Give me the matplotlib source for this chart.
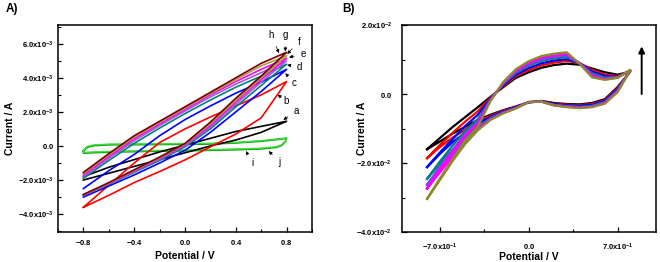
import matplotlib
matplotlib.use('Agg')
import matplotlib.pyplot as plt
from matplotlib.ticker import MultipleLocator

plt.rcParams['font.family'] = ['Liberation Sans', 'DejaVu Sans']
plt.rcParams['mathtext.fontset'] = 'custom'
plt.rcParams['mathtext.rm'] = 'Liberation Sans'
plt.rcParams['mathtext.bf'] = 'Liberation Sans:bold'

# ---------------- panel A data (current in 1e-3 A) ----------------
E_a = [-0.8, -0.6, -0.4, -0.2, 0.0, 0.2, 0.4, 0.6, 0.8]

names_a = ['a', 'b', 'c', 'd', 'e', 'f', 'g', 'h']
colors_a = ['#000000', '#ff0000', '#0000ff', '#008080', '#9a5fd0', '#ff00ff', '#a3a040', '#7a0000']

# anodic (upper) branches, -0.8 -> 0.8
upper_a = [
    [-1.80, -1.25, -0.80, -0.35, 0.05, 0.45, 0.85, 1.15, 1.45],
    [-3.60, -2.30, -1.00, 0.20, 1.00, 1.70, 2.35, 3.00, 3.78],
    [-2.50, -1.45, -0.50, 0.60, 1.55, 2.35, 3.10, 3.75, 4.50],
    [-1.90, -0.85, 0.15, 1.05, 1.90, 2.70, 3.45, 4.10, 4.80],
    [-1.80, -0.72, 0.30, 1.20, 2.05, 2.88, 3.63, 4.30, 5.00],
    [-1.70, -0.62, 0.42, 1.30, 2.15, 3.00, 3.78, 4.50, 5.15],
    [-1.62, -0.52, 0.52, 1.38, 2.23, 3.08, 3.90, 4.70, 5.30],
    [-1.55, -0.45, 0.60, 1.45, 2.30, 3.15, 4.00, 4.85, 5.50],
]
# cathodic (lower) branches, same potentials
lower_a = [
    [-2.00, -1.60, -1.20, -0.80, -0.40, 0.00, 0.35, 0.80, 1.45],
    [-3.60, -2.90, -2.15, -1.50, -0.82, -0.05, 0.70, 1.65, 3.78],
    [-3.00, -2.35, -1.70, -1.00, -0.25, 0.80, 2.00, 3.20, 4.50],
    [-2.90, -2.25, -1.55, -0.85, -0.05, 1.00, 2.30, 3.55, 4.80],
    [-2.88, -2.22, -1.50, -0.78, 0.02, 1.10, 2.45, 3.75, 5.00],
    [-2.87, -2.20, -1.47, -0.73, 0.08, 1.20, 2.58, 3.90, 5.15],
    [-2.86, -2.18, -1.43, -0.69, 0.12, 1.30, 2.68, 4.00, 5.30],
    [-2.85, -2.15, -1.40, -0.65, 0.15, 1.40, 2.80, 4.10, 5.50],
]

# the two flat green loops (i, j)
E_green = [-0.8, -0.77, -0.72, -0.6, -0.4, -0.2, 0.0, 0.2, 0.4, 0.6, 0.7, 0.8,
           0.79, 0.76, 0.72, 0.6, 0.4, 0.2, 0.0, -0.2, -0.4, -0.6, -0.75, -0.8, -0.8]
I_green_i = [-0.30, -0.08, 0.02, 0.07, 0.08, 0.09, 0.10, 0.12, 0.18, 0.28, 0.36, 0.45,
             0.25, 0.03, -0.08, -0.17, -0.22, -0.25, -0.28, -0.30, -0.33, -0.36, -0.40, -0.42, -0.30]
I_green_j = [-0.25, -0.03, 0.06, 0.11, 0.12, 0.13, 0.14, 0.16, 0.21, 0.31, 0.39, 0.47,
             0.28, 0.06, -0.04, -0.13, -0.18, -0.21, -0.24, -0.26, -0.29, -0.32, -0.36, -0.38, -0.25]

# label text position, arrow tip
label_pos = {
    'h': ((0.68, 6.53), (0.74, 5.45)),
    'g': ((0.79, 6.53), (0.79, 5.55)),
    'f': ((0.90, 6.13), (0.805, 5.40)),
    'e': ((0.935, 5.41), (0.82, 5.20)),
    'd': ((0.90, 4.63), (0.805, 4.76)),
    'c': ((0.86, 3.69), (0.79, 4.27)),
    'b': ((0.80, 2.64), (0.73, 3.00)),
    'a': ((0.88, 2.08), (0.775, 1.53)),
    'i': ((0.53, -1.02), (0.48, -0.30)),
    'j': ((0.74, -0.92), (0.66, -0.30)),
}

# ---------------- panel B data (current in 1e-2 A) ----------------
E_b = [-0.8, -0.7, -0.6, -0.5, -0.4, -0.3, -0.2, -0.1, 0.0, 0.1, 0.2, 0.3, 0.4, 0.5, 0.6, 0.7, 0.8]
colors_b = ['#000000', '#ff0000', '#0000ff', '#008080', '#8a3cf0', '#ff00ff', '#8c8a2a']

fwd_b = [
    [-1.60, -1.28, -0.96, -0.67, -0.38, -0.08, 0.20, 0.47, 0.63, 0.76, 0.84, 0.88, 0.85, 0.74, 0.63, 0.56, 0.65],
    [-1.86, -1.48, -1.13, -0.80, -0.50, -0.10, 0.23, 0.52, 0.69, 0.83, 0.91, 0.96, 0.90, 0.70, 0.56, 0.52, 0.66],
    [-2.12, -1.70, -1.31, -0.93, -0.60, -0.13, 0.26, 0.56, 0.75, 0.89, 0.97, 1.01, 0.90, 0.65, 0.52, 0.50, 0.67],
    [-2.46, -1.96, -1.50, -1.07, -0.73, -0.15, 0.29, 0.61, 0.82, 0.96, 1.03, 1.07, 0.90, 0.60, 0.48, 0.49, 0.68],
    [-2.63, -2.10, -1.62, -1.15, -0.80, -0.17, 0.31, 0.65, 0.86, 1.01, 1.08, 1.12, 0.90, 0.56, 0.45, 0.48, 0.69],
    [-2.74, -2.20, -1.70, -1.22, -0.86, -0.18, 0.33, 0.68, 0.90, 1.05, 1.12, 1.16, 0.89, 0.52, 0.43, 0.47, 0.69],
    [-3.04, -2.45, -1.90, -1.35, -0.95, -0.20, 0.35, 0.72, 0.95, 1.10, 1.17, 1.21, 0.88, 0.48, 0.41, 0.47, 0.70],
]
# reverse scan, listed from 0.8 back to -0.8
rev_b = [
    [0.65, 0.20, -0.15, -0.26, -0.30, -0.29, -0.26, -0.20, -0.24, -0.36, -0.47, -0.60, -0.75, -0.95, -1.15, -1.38, -1.60],
    [0.66, 0.17, -0.18, -0.29, -0.32, -0.31, -0.28, -0.21, -0.24, -0.37, -0.49, -0.63, -0.80, -1.03, -1.27, -1.54, -1.86],
    [0.67, 0.14, -0.20, -0.31, -0.34, -0.33, -0.29, -0.21, -0.24, -0.38, -0.51, -0.66, -0.86, -1.12, -1.40, -1.74, -2.12],
    [0.68, 0.11, -0.23, -0.34, -0.37, -0.35, -0.31, -0.22, -0.24, -0.40, -0.53, -0.70, -0.94, -1.26, -1.62, -2.02, -2.46],
    [0.69, 0.09, -0.25, -0.36, -0.39, -0.36, -0.32, -0.22, -0.23, -0.41, -0.54, -0.72, -0.99, -1.34, -1.75, -2.18, -2.63],
    [0.69, 0.07, -0.26, -0.37, -0.40, -0.37, -0.33, -0.22, -0.23, -0.41, -0.55, -0.73, -1.01, -1.39, -1.84, -2.28, -2.74],
    [0.70, 0.05, -0.28, -0.38, -0.41, -0.38, -0.33, -0.22, -0.23, -0.42, -0.56, -0.75, -1.05, -1.45, -1.95, -2.50, -3.04],
]

fig = plt.figure(figsize=(6.6, 2.62), dpi=100)
axA = fig.add_axes([0.0879, 0.1145, 0.3848, 0.790])
axB = fig.add_axes([0.6086, 0.1145, 0.3848, 0.790])

# ---- panel A ----
axA.plot(E_green, I_green_i, color='#10a010', lw=1.3)
axA.plot(E_green, I_green_j, color='#3ede3e', lw=1.0)
for up, lo, c in zip(upper_a, lower_a, colors_a):
    axA.plot(E_a + E_a[::-1], up + lo[::-1], color=c, lw=1.2)

for name, (txt, tip) in label_pos.items():
    axA.annotate(name, xy=tip, xytext=txt, fontsize=7, ha='center', va='center',
                 arrowprops=dict(arrowstyle='-|>', lw=0.5, color='k', mutation_scale=5,
                                 shrinkA=3, shrinkB=0))

axA.set_xlim(-1.0, 1.0)
axA.set_ylim(-5.05, 7.1)
axA.set_xticks([-0.8, -0.4, 0.0, 0.4, 0.8])
axA.set_xticklabels([r'$\mathbf{-0.8}$', r'$\mathbf{-0.4}$', r'$\mathbf{0.0}$',
                     r'$\mathbf{0.4}$', r'$\mathbf{0.8}$'])
axA.set_yticks([-4, -2, 0, 2, 4, 6])
axA.set_yticklabels([r'$\mathbf{-4.0x10^{-3}}$', r'$\mathbf{-2.0x10^{-3}}$', r'$\mathbf{0.0}$',
                     r'$\mathbf{2.0x10^{-3}}$', r'$\mathbf{4.0x10^{-3}}$', r'$\mathbf{6.0x10^{-3}}$'])
axA.xaxis.set_minor_locator(MultipleLocator(0.2))
axA.yaxis.set_minor_locator(MultipleLocator(1))
axA.set_xlabel('Potential / V', fontsize=7.5, fontweight='bold')
axA.set_ylabel('Current / A', fontsize=7.5, fontweight='bold')
axA.xaxis.set_label_coords(0.5, -0.116)
axA.yaxis.set_label_coords(-0.189, 0.5)
fig.text(0.008, 0.965, 'A)', fontsize=8.5, fontweight='bold', va='center')

# ---- panel B ----
for f, r, c in zip(fwd_b, rev_b, colors_b):
    axB.plot(E_b + E_b[::-1], f + r, color=c, lw=1.6)

axB.annotate('', xy=(0.89, 1.38), xytext=(0.89, 0.0),
             arrowprops=dict(arrowstyle='-|>', lw=1.4, color='k', mutation_scale=9,
                             shrinkA=0, shrinkB=0))

axB.set_xlim(-1.0, 1.0)
axB.set_ylim(-4.0, 2.0)
axB.set_xticks([-0.7, 0.0, 0.7])
axB.set_xticklabels([r'$\mathbf{-7.0x10^{-1}}$', r'$\mathbf{0.0}$', r'$\mathbf{7.0x10^{-1}}$'])
axB.set_yticks([-4, -2, 0, 2])
axB.set_yticklabels([r'$\mathbf{-4.0x10^{-2}}$', r'$\mathbf{-2.0x10^{-2}}$', r'$\mathbf{0.0}$',
                     r'$\mathbf{2.0x10^{-2}}$'])
axB.xaxis.set_minor_locator(MultipleLocator(0.35))
axB.yaxis.set_minor_locator(MultipleLocator(1))
axB.set_xlabel('Potential / V', fontsize=7.5, fontweight='bold')
axB.set_ylabel('Current / A', fontsize=7.5, fontweight='bold')
axB.xaxis.set_label_coords(0.5, -0.12)
axB.yaxis.set_label_coords(-0.156, 0.5)
fig.text(0.518, 0.965, 'B)', fontsize=8.5, fontweight='bold', va='center')

for ax in (axA, axB):
    ax.xaxis.label.set_va('center')
    ax.yaxis.label.set_va('center')
    for s in ax.spines.values():
        s.set_linewidth(1.1)
    ax.tick_params(which='major', direction='in', length=3.5, width=0.9, labelsize=5.5)
    ax.tick_params(which='minor', direction='in', length=2, width=0.8)
axA.tick_params(axis='y', pad=3)
axA.tick_params(axis='x', pad=4)
axB.tick_params(axis='y', pad=7)
axB.tick_params(axis='x', pad=7)

fig.savefig('out.png', dpi=100)
